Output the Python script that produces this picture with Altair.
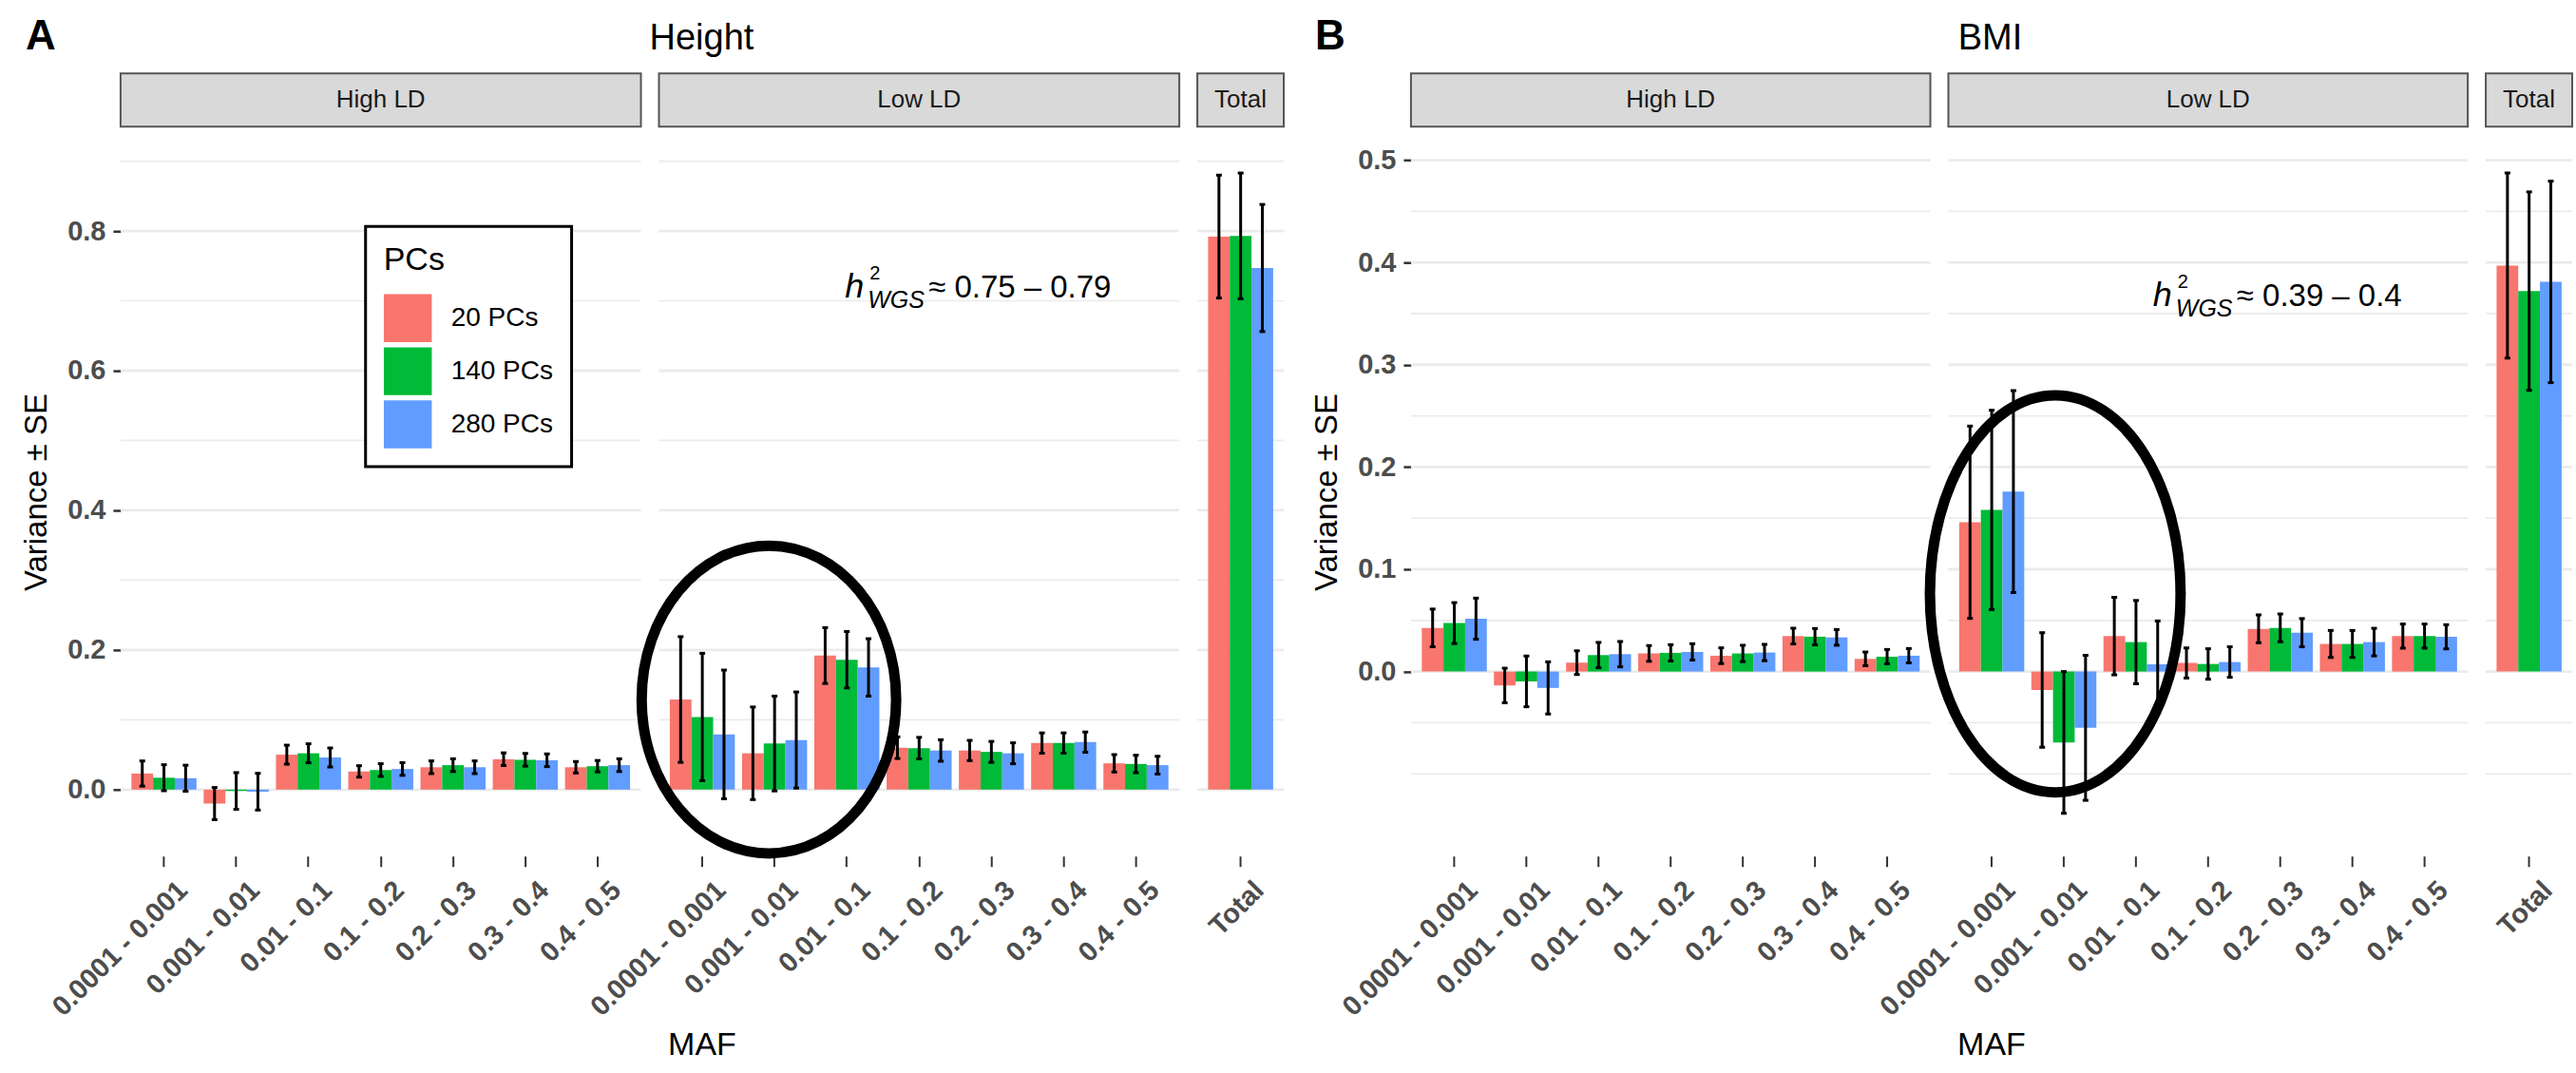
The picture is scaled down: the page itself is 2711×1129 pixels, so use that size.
import altair as alt
import pandas as pd

FONT = "Liberation Sans"

maf_bins = ["0.0001 - 0.001", "0.001 - 0.01", "0.01 - 0.1", "0.1 - 0.2",
            "0.2 - 0.3", "0.3 - 0.4", "0.4 - 0.5"]
total_bin = ["Total"]
pc_levels = ["20 PCs", "140 PCs", "280 PCs"]
pc_colors = ["#F8766D", "#00BA38", "#619CFF"]

# Height: variance explained per MAF bin, with standard errors
height_high = {
    "20 PCs": [0.023, -0.020, 0.050, 0.026, 0.032, 0.0435, 0.032],
    "140 PCs": [0.017, -0.002, 0.052, 0.028, 0.035, 0.0427, 0.0335],
    "280 PCs": [0.0163, -0.003, 0.046, 0.0295, 0.032, 0.042, 0.035],
}
height_high_se = {
    "20 PCs": [0.018, 0.023, 0.0136, 0.0082, 0.0091, 0.0091, 0.0082],
    "140 PCs": [0.0186, 0.0263, 0.0136, 0.0091, 0.0091, 0.0091, 0.0082],
    "280 PCs": [0.0186, 0.0263, 0.0136, 0.0091, 0.0091, 0.0091, 0.0091],
}
height_low = {
    "20 PCs": [0.129, 0.052, 0.192, 0.060, 0.056, 0.0667, 0.0376],
    "140 PCs": [0.104, 0.066, 0.186, 0.0594, 0.054, 0.0667, 0.0367],
    "280 PCs": [0.079, 0.071, 0.175, 0.056, 0.052, 0.068, 0.035],
}
height_low_se = {
    "20 PCs": [0.090, 0.0663, 0.040, 0.0155, 0.0145, 0.0145, 0.0125],
    "140 PCs": [0.0912, 0.0679, 0.0404, 0.0154, 0.015, 0.0145, 0.0125],
    "280 PCs": [0.0922, 0.0688, 0.0411, 0.0154, 0.015, 0.0145, 0.0127],
}
height_total = [0.792, 0.793, 0.747]
height_total_se = [0.088, 0.090, 0.091]

# BMI: variance explained per MAF bin, with standard errors
bmi_high = {
    "20 PCs": [0.0427, -0.0136, 0.0087, 0.0177, 0.0155, 0.0347, 0.0124],
    "140 PCs": [0.0474, -0.0096, 0.0161, 0.0183, 0.0177, 0.0341, 0.0146],
    "280 PCs": [0.0517, -0.016, 0.017, 0.0192, 0.0186, 0.0334, 0.0155],
}
bmi_high_se = {
    "20 PCs": [0.0184, 0.0169, 0.0116, 0.0077, 0.0077, 0.0077, 0.0067],
    "140 PCs": [0.020, 0.0248, 0.0124, 0.008, 0.008, 0.008, 0.007],
    "280 PCs": [0.0201, 0.0255, 0.0124, 0.008, 0.008, 0.0077, 0.007],
}
bmi_low = {
    "20 PCs": [0.146, -0.018, 0.0347, 0.0084, 0.0418, 0.027, 0.0347],
    "140 PCs": [0.158, -0.0693, 0.0288, 0.0074, 0.0427, 0.027, 0.0347],
    "280 PCs": [0.176, -0.055, 0.0071, 0.0093, 0.038, 0.0288, 0.034],
}
bmi_low_se = {
    "20 PCs": [0.094, 0.056, 0.0379, 0.0147, 0.0136, 0.0132, 0.0118],
    "140 PCs": [0.0975, 0.0693, 0.0407, 0.0149, 0.0136, 0.0132, 0.0118],
    "280 PCs": [0.0987, 0.0709, 0.0424, 0.0149, 0.0138, 0.0135, 0.0118],
}
bmi_total = [0.397, 0.372, 0.381]
bmi_total_se = [0.0905, 0.097, 0.0985]

# y axes: breaks and grid lines
height_domain = [-0.0952, 0.948]
height_major = [0.0, 0.2, 0.4, 0.6, 0.8]
height_minor = [0.1, 0.3, 0.5, 0.7, 0.9]
bmi_domain = [-0.1804, 0.5318]
bmi_major = [0.0, 0.1, 0.2, 0.3, 0.4, 0.5]
bmi_minor = [-0.1, -0.05, 0.05, 0.15, 0.25, 0.35, 0.45]

# heritability annotations and highlighted bins
height_h2 = "≈ 0.75 – 0.79"
bmi_h2 = "≈ 0.39 – 0.4"
height_note = ("0.01 - 0.1", 0.705)
bmi_note = ("0.01 - 0.1", 0.357)
height_ring = ("0.001 - 0.01", 0.129)
bmi_ring = ("0.001 - 0.01", 0.076)

PLOT_H = 767
W_BIN = 548
W_TOTAL = 91
GAP = 19
TICK_FONT = 29


def ellipse_path(ax, ay):
    k = 0.5523
    return (f"M {ax} 0 C {ax} {k*ay:.4f} {k*ax:.4f} {ay} 0 {ay} "
            f"C {-k*ax:.4f} {ay} {-ax} {k*ay:.4f} {-ax} 0 "
            f"C {-ax} {-k*ay:.4f} {-k*ax:.4f} {-ay} 0 {-ay} "
            f"C {k*ax:.4f} {-ay} {ax} {-k*ay:.4f} {ax} 0 Z")


def frame(values, ses, cats):
    rows = []
    for pc in pc_levels:
        for cat, v, s in zip(cats, values[pc], ses[pc]):
            rows.append({"maf": cat, "pcs": pc, "var": v, "lo": v - s, "hi": v + s})
    return pd.DataFrame(rows)


def total_frame(values, ses):
    return frame({pc: [v] for pc, v in zip(pc_levels, values)},
                 {pc: [s] for pc, s in zip(pc_levels, ses)}, total_bin)


def x_axis(title=None):
    kw = dict(domain=False, grid=False, ticks=True, tickColor="#333333", tickSize=11,
              tickWidth=2, labelAngle=-45, labelAlign="right", labelBaseline="top",
              labelFont=FONT, labelFontSize=TICK_FONT, labelFontWeight="bold",
              labelColor="#4D4D4D", labelPadding=10, labelOffset=10, labelLimit=400,
              labelOverlap=False)
    if title:
        kw.update(title=title, titleX=45, titleY=209, titleAlign="center", titleAngle=0,
                  titleBaseline="alphabetic", titleFont=FONT, titleFontSize=34,
                  titleFontWeight="normal", titleColor="black")
    else:
        kw.update(title=None)
    return alt.Axis(**kw)


def y_axis(major):
    return alt.Axis(values=major, format=".1f", title="Variance ± SE", grid=False, domain=False,
                    ticks=True, tickColor="#333333", tickSize=8, tickWidth=2.5,
                    labelFont=FONT, labelFontSize=TICK_FONT, labelFontWeight="bold",
                    labelColor="#4D4D4D", labelPadding=8,
                    titleFont=FONT, titleFontSize=33, titleFontWeight="normal",
                    titleColor="black", titlePadding=15)


def view(df, cats, width, domain, major, minor, strip, show_y=False, x_title=None,
         legend=None, ring=None, note=None, heading=None, tag=None):
    yscale = alt.Scale(domain=domain, nice=False, zero=False)
    yaxis = y_axis(major) if show_y else None
    xscale = alt.Scale(domain=cats, paddingInner=0.1, paddingOuter=0.15)
    xenc = alt.X("maf:N", sort=cats, scale=xscale, axis=x_axis(x_title))
    xoff = alt.XOffset("pcs:N", sort=pc_levels,
                       scale=alt.Scale(domain=pc_levels, paddingInner=0, paddingOuter=0))

    def yq(field):
        return alt.Y(field, scale=yscale, axis=yaxis)

    grid_df = pd.DataFrame({"g": major + minor,
                            "w": [2.8] * len(major) + [1.7] * len(minor)})
    grid = alt.Chart(grid_df).mark_rule(color="#EBEBEB").encode(
        y=yq("g:Q"), strokeWidth=alt.StrokeWidth("w:Q", scale=None))

    base = alt.Chart(df)
    bars = base.mark_bar().encode(
        x=xenc, xOffset=xoff, y=yq("var:Q"), y2=alt.datum(0),
        color=alt.Color("pcs:N", sort=pc_levels,
                        scale=alt.Scale(domain=pc_levels, range=pc_colors),
                        legend=legend))
    err = base.mark_rule(color="black", strokeWidth=3).encode(
        x=xenc, xOffset=xoff, y=yq("lo:Q"), y2="hi:Q")
    caps = base.transform_fold(["lo", "hi"], as_=["end", "yv"]).mark_tick(
        color="black", orient="horizontal", size=6, thickness=3, opacity=1).encode(
        x=xenc, xOffset=xoff, y=yq("yv:Q"))

    strip_df = pd.DataFrame({"label": [strip]})
    strip_box = alt.Chart(strip_df).mark_rect(
        fill="#D9D9D9", stroke="#555555", strokeWidth=2).encode(
        x=alt.value(0), x2=alt.value(width), y=alt.value(-57), y2=alt.value(-1))
    strip_txt = alt.Chart(strip_df).mark_text(
        font=FONT, fontSize=26, color="#1A1A1A", baseline="middle", align="center").encode(
        x=alt.value(width / 2), y=alt.value(-29), text="label:N")

    layers = [grid, bars, err, caps, strip_box, strip_txt]

    if note is not None:
        cat, yv, dx0, label = note
        ndf = pd.DataFrame({"maf": [cat], "yv": [yv]})
        nb = alt.Chart(ndf).encode(x=xenc, y=yq("yv:Q"))
        layers += [
            nb.mark_text(text="h", font=FONT, fontStyle="italic", fontSize=36,
                         align="left", baseline="alphabetic", dx=dx0, color="black"),
            nb.mark_text(text="2", font=FONT, fontSize=20, align="left",
                         baseline="alphabetic", dx=dx0 + 26, dy=-19, color="black"),
            nb.mark_text(text="WGS", font=FONT, fontStyle="italic", fontSize=25,
                         align="left", baseline="alphabetic", dx=dx0 + 24, dy=11, color="black"),
            nb.mark_text(text=label, font=FONT, fontSize=33, align="left",
                         baseline="alphabetic", dx=dx0 + 88, color="black"),
        ]

    if ring is not None:
        cat, yv, rx, ry, shift = ring
        rdf = pd.DataFrame({"maf": [cat], "yv": [yv]})
        layers.append(alt.Chart(rdf).mark_point(
            shape=ellipse_path(round(rx / ry, 4), 1), size=(2 * ry) ** 2, filled=False,
            stroke="black", strokeWidth=11, opacity=1, xOffset=shift).encode(
            x=xenc, y=yq("yv:Q")))

    if heading is not None:
        hdf = pd.DataFrame({"t": [heading[0]]})
        layers.append(alt.Chart(hdf).mark_text(
            font=FONT, fontSize=38, color="black", align="center", baseline="alphabetic").encode(
            x=alt.value(heading[1]), y=alt.value(-82), text="t:N"))

    if tag is not None:
        tdf = pd.DataFrame({"t": [tag[0]]})
        layers.append(alt.Chart(tdf).mark_text(
            font=FONT, fontSize=44, fontWeight="bold", color="black", align="left",
            baseline="alphabetic").encode(
            x=alt.value(tag[1]), y=alt.value(-82), text="t:N"))

    return alt.layer(*layers).properties(width=width, height=PLOT_H)


pcs_legend = alt.Legend(
    title="PCs", orient="none", legendX=258, legendY=104, direction="vertical",
    strokeColor="black", fillColor="white", padding=19, cornerRadius=0,
    titleFont=FONT, titleFontSize=34, titleFontWeight="normal", titleColor="black",
    titlePadding=18, labelFont=FONT, labelFontSize=28, labelColor="black", labelOffset=20,
    labelLimit=300, symbolType="square", symbolSize=2550, symbolStrokeWidth=0,
    symbolOpacity=1, rowPadding=5)

a_high = view(frame(height_high, height_high_se, maf_bins), maf_bins, W_BIN, height_domain,
              height_major, height_minor, "High LD", show_y=True, legend=pcs_legend,
              tag=("A", -100))
a_low = view(frame(height_low, height_low_se, maf_bins), maf_bins, W_BIN, height_domain,
             height_major, height_minor, "Low LD", x_title="MAF",
             ring=(height_ring[0], height_ring[1], 134, 162, -6),
             note=(height_note[0], height_note[1], -2, height_h2),
             heading=("Height", 45))
a_total = view(total_frame(height_total, height_total_se), total_bin, W_TOTAL, height_domain,
               height_major, height_minor, "Total")

b_high = view(frame(bmi_high, bmi_high_se, maf_bins), maf_bins, 547, bmi_domain,
              bmi_major, bmi_minor, "High LD", show_y=True, tag=("B", -101))
b_low = view(frame(bmi_low, bmi_low_se, maf_bins), maf_bins, 547, bmi_domain,
             bmi_major, bmi_minor, "Low LD", x_title="MAF",
             ring=(bmi_ring[0], bmi_ring[1], 132, 209, -9),
             note=(bmi_note[0], bmi_note[1], 18, bmi_h2),
             heading=("BMI", 44))
b_total = view(total_frame(bmi_total, bmi_total_se), total_bin, W_TOTAL, bmi_domain,
               bmi_major, bmi_minor, "Total")

# empty column that holds the space for the second panel's y axis
spacer = alt.Chart(pd.DataFrame({"s": [""]})).mark_text().encode(
    text="s:N").properties(width=134 - 2 * GAP, height=PLOT_H)

chart = (
    alt.hconcat(a_high, a_low, a_total, spacer, b_high, b_low, b_total,
                spacing=GAP, bounds="flush")
    .resolve_scale(x="independent", y="independent", color="independent")
    .properties(padding={"left": 22, "top": 17, "right": 2, "bottom": 4})
    .configure(background="white", font=FONT)
    .configure_view(strokeWidth=0)
    .configure_legend(strokeWidth=3)
)

chart.save("out.html", embed_options={"renderer": "svg", "actions": False})
